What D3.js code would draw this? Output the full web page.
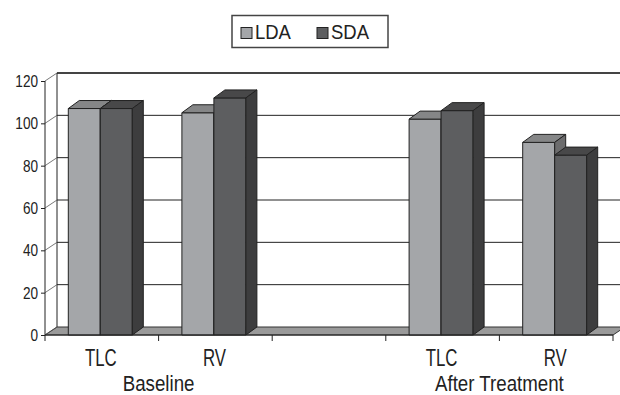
<!DOCTYPE html>
<html>
<head>
<meta charset="utf-8">
<script src="https://cdn.jsdelivr.net/npm/d3@7"></script>
<style>
  html, body { margin: 0; padding: 0; background: #fff; }
  svg { display: block; }
  text { font-family: "Liberation Sans", Arial, sans-serif; fill: #222; }
</style>
</head>
<body>
<svg id="chart" width="620" height="395"></svg>
<script>
// Category slots along the floor (the middle slot is an empty spacer)
const categories = ["TLC", "RV", "", "TLC", "RV"];
const groupLabels = ["Baseline", "After Treatment"];
const groupBoundaries = [1, 4]; // slot boundary index under each group label
const seriesNames = ["LDA", "SDA"];
const ldaValues = [107, 105, null, 102, 91];
const sdaValues = [107, 112, null, 106, 85];
const yTicks = [0, 20, 40, 60, 80, 100, 120];

const svg = d3.select("#chart");

// Oblique projection used for the 3-D frame and bars
const wallDepth = { dx: 12, dy: -8 };
const barDepth = { dx: 11, dy: -8 };

const x = d3.scaleBand().domain(d3.range(categories.length)).range([45, 613]).paddingInner(0).paddingOuter(0);
const y = d3.scaleLinear().domain([0, 120]).range([335, 81]);

const x0 = x.range()[0], x1 = x.range()[1];

// Condensed text: horizontally squeezed glyphs placed at (px, py)
function condensedText(sel, px, py, sx) {
  return sel.attr("transform", (d, i) => `translate(${typeof px === "function" ? px(d, i) : px},${py}) scale(${sx},1)`)
    .attr("x", 0).attr("y", 0);
}

// Back wall
svg.append("rect")
  .attr("x", x0 + wallDepth.dx).attr("y", y(120) + wallDepth.dy)
  .attr("width", x1 - x0 + 10).attr("height", y(0) - y(120))
  .attr("fill", "#fff");

// Gridlines on the back wall
svg.append("g").selectAll("line")
  .data(yTicks.filter(d => d > 0))
  .join("line")
  .attr("x1", x0 + wallDepth.dx).attr("x2", 640)
  .attr("y1", d => y(d) + wallDepth.dy).attr("y2", d => y(d) + wallDepth.dy)
  .attr("stroke", d => d === 120 ? "#444" : "#222")
  .attr("stroke-width", d => d === 120 ? 2 : 1);

// Left edge of back wall
svg.append("line")
  .attr("x1", x0 + wallDepth.dx).attr("x2", x0 + wallDepth.dx)
  .attr("y1", y(120) + wallDepth.dy).attr("y2", y(0) + wallDepth.dy)
  .attr("stroke", "#222");

// Floor
const floorPts = [
  [x0, y(0)], [x1, y(0)],
  [x1 + wallDepth.dx, y(0) + wallDepth.dy], [x0 + wallDepth.dx, y(0) + wallDepth.dy]
];
svg.append("path")
  .attr("d", d3.line()(floorPts) + "Z")
  .attr("fill", "#9a9a9a").attr("stroke", "#333").attr("stroke-width", 1);

// Side-wall tick connectors from front axis to back wall
svg.append("g").selectAll("line")
  .data(yTicks)
  .join("line")
  .attr("x1", x0).attr("y1", d => y(d))
  .attr("x2", x0 + wallDepth.dx).attr("y2", d => y(d) + wallDepth.dy)
  .attr("stroke", "#555").attr("stroke-width", 0.8);

// Bars
const series = [
  { name: "LDA", values: ldaValues, front: "#a4a6a9", top: "#858687", side: "#6c6c6d" },
  { name: "SDA", values: sdaValues, front: "#5d5e60", top: "#484849", side: "#3d3d3e" }
];
const barW = 32;
const barsG = svg.append("g");
categories.forEach((cat, i) => {
  const cx = x(i) + x.bandwidth() / 2 - 1.5;
  series.forEach((s, j) => {
    const v = s.values[i];
    if (v == null) return;
    const bx = cx - barW + j * barW;
    const top = y(v), bot = y(0);
    const g = barsG.append("g").attr("stroke", "#222").attr("stroke-width", 1).attr("stroke-linejoin", "round");
    // front face
    g.append("rect").attr("x", bx).attr("y", top).attr("width", barW).attr("height", bot - top).attr("fill", s.front);
    // top face
    g.append("path").attr("fill", s.top).attr("d", d3.line()([
      [bx, top], [bx + barW, top], [bx + barW + barDepth.dx, top + barDepth.dy], [bx + barDepth.dx, top + barDepth.dy]
    ]) + "Z");
    // side face
    g.append("path").attr("fill", s.side).attr("d", d3.line()([
      [bx + barW, top], [bx + barW + barDepth.dx, top + barDepth.dy],
      [bx + barW + barDepth.dx, bot + barDepth.dy], [bx + barW, bot]
    ]) + "Z");
  });
});

// Front value axis
const yAxis = svg.append("g").attr("transform", `translate(${x0},0)`)
  .call(d3.axisLeft(y).tickValues(yTicks).tickSize(4).tickPadding(4).tickFormat(d3.format("d")));
yAxis.select(".domain").attr("stroke", "#222").attr("d", `M-0,${y(120)}V${y(0)}`);
yAxis.selectAll(".tick line").attr("stroke", "#222");
yAxis.selectAll(".tick text")
  .attr("font-size", 16).attr("fill", "#222")
  .style("font-family", '"Liberation Sans", Arial, sans-serif')
  .attr("dy", null)
  .attr("transform", "translate(-7,5.5) scale(0.85,1)")
  .attr("x", 0).attr("y", 0);

// Front category axis baseline and slot ticks
svg.append("line").attr("x1", x0).attr("x2", x1).attr("y1", y(0)).attr("y2", y(0)).attr("stroke", "#222");
svg.append("g").selectAll("line")
  .data(d3.range(categories.length + 1))
  .join("line")
  .attr("x1", i => x0 + i * x.bandwidth()).attr("x2", i => x0 + i * x.bandwidth())
  .attr("y1", y(0)).attr("y2", y(0) + 6)
  .attr("stroke", "#222");

// Category labels
svg.append("g").selectAll("text")
  .data(categories)
  .join("text")
  .call(condensedText, (d, i) => x(i) + x.bandwidth() / 2 - 1, 366, 0.73)
  .attr("text-anchor", "middle")
  .attr("font-size", 23)
  .text(d => d);

// Group labels
svg.append("g").selectAll("text")
  .data(groupLabels)
  .join("text")
  .call(condensedText, (d, i) => x0 + groupBoundaries[i] * x.bandwidth(), 390.5, 0.85)
  .attr("text-anchor", "middle")
  .attr("font-size", 22)
  .text(d => d);

// Legend
const legend = svg.append("g");
legend.append("rect")
  .attr("x", 232).attr("y", 15.5).attr("width", 156).attr("height", 32)
  .attr("fill", "#fff").attr("stroke", "#444").attr("stroke-width", 1.5);
const legendX = [241, 317];
seriesNames.forEach((name, i) => {
  legend.append("rect")
    .attr("x", legendX[i]).attr("y", 27.5).attr("width", 11).attr("height", 11)
    .attr("fill", series[i].front).attr("stroke", "#222").attr("stroke-width", 1);
  legend.append("text")
    .datum(name)
    .call(condensedText, legendX[i] + 14, 38.5, 0.88)
    .attr("font-size", 21)
    .text(name);
});
</script>
</body>
</html>
